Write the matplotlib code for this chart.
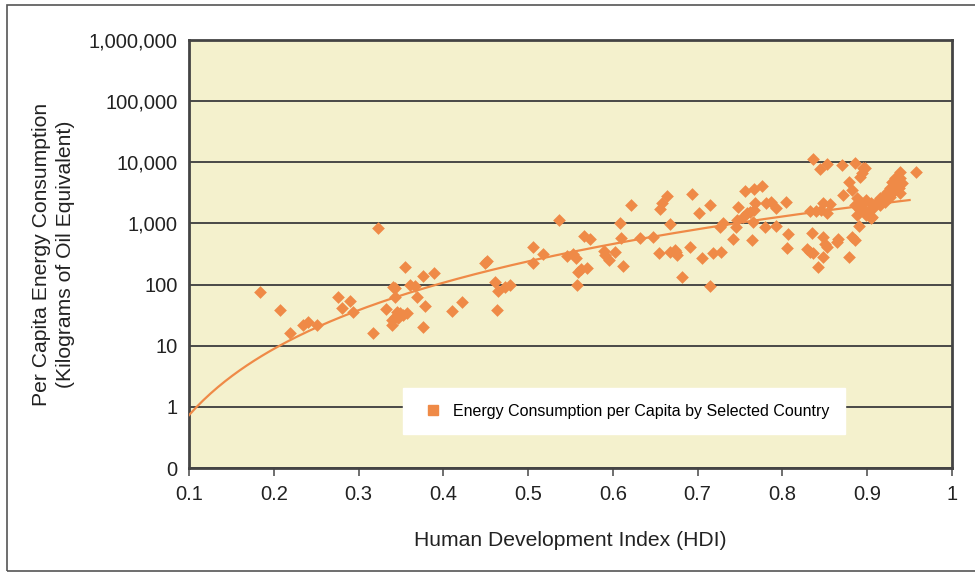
import numpy as np
import matplotlib
matplotlib.use('Agg')
import matplotlib.pyplot as plt
from matplotlib.lines import Line2D
from matplotlib.patches import Rectangle

plt.rcParams['font.family'] = ['Liberation Sans', 'DejaVu Sans']

# HDI of each country (x) and per capita energy use in kg of oil equivalent (y)
hdi = [0.184, 0.207, 0.219, 0.235, 0.240, 0.251, 0.276, 0.280, 0.290, 0.294,
       0.317, 0.332, 0.341, 0.343, 0.355, 0.343, 0.345, 0.349, 0.343, 0.353,
       0.357, 0.339, 0.347, 0.339, 0.361, 0.367, 0.369, 0.376, 0.389, 0.378,
       0.376, 0.410, 0.422, 0.323,
       0.451, 0.449, 0.461, 0.465, 0.473, 0.479, 0.463, 0.506, 0.518, 0.506,
       0.536, 0.546, 0.553, 0.557, 0.559, 0.563, 0.569, 0.558, 0.566, 0.573,
       0.589, 0.591, 0.595, 0.603, 0.612, 0.608, 0.621, 0.610, 0.632, 0.647,
       0.654, 0.656, 0.658, 0.664, 0.667, 0.667, 0.673, 0.676, 0.675, 0.681,
       0.691, 0.693, 0.702, 0.705, 0.715, 0.718, 0.728, 0.714, 0.726, 0.730,
       0.742, 0.745, 0.748, 0.746, 0.754, 0.758, 0.762, 0.766, 0.756, 0.766,
       0.776, 0.768, 0.764, 0.765, 0.779, 0.781, 0.787, 0.793, 0.793, 0.804,
       0.807, 0.805,
       0.836, 0.844, 0.852, 0.870, 0.886, 0.895, 0.894, 0.892, 0.897, 0.878,
       0.882, 0.872, 0.848, 0.856, 0.833, 0.840, 0.846, 0.852, 0.888, 0.890,
       0.886, 0.894, 0.892, 0.888, 0.899, 0.905, 0.907, 0.905, 0.890, 0.835,
       0.848, 0.866, 0.882, 0.886, 0.850, 0.852, 0.864, 0.829, 0.833, 0.836,
       0.848, 0.878, 0.842,
       0.939, 0.958, 0.933, 0.939, 0.929, 0.935, 0.941, 0.931, 0.937, 0.927,
       0.923, 0.931, 0.939, 0.921, 0.927, 0.915, 0.921, 0.911, 0.907, 0.915,
       0.903, 0.899, 0.906]
energy = [75, 38, 16, 22, 24, 22, 63, 41, 54, 36,
          16, 40, 92, 87, 196, 63, 36, 34, 30, 32,
          34, 26, 28, 22, 98, 96, 62, 140, 156, 45,
          20, 37, 52, 850,
          243, 228, 109, 79, 90, 98, 38, 416, 316, 228,
          1137, 293, 316, 269, 162, 177, 184, 98, 622, 556,
          358, 304, 252, 345, 201, 1026, 2000, 570, 570, 593,
          324, 1702, 2133, 2838, 977, 344, 367, 304, 344, 131,
          416, 3027, 1463, 275, 2000, 324, 344, 95, 883, 1004,
          550, 883, 1875, 1137, 1288, 1463, 1553, 1655, 3427, 3656,
          4093, 2133, 535, 1067, 883, 2183, 2265, 1766, 907, 2265,
          663, 392,
          11170, 7670, 9370, 9020, 9610, 7960, 6750, 5800, 8150, 4810,
          3520, 2915, 2180, 2080, 1596, 1596, 1656, 1462, 2575, 2133,
          2000, 1875, 1655, 1371, 2415, 2133, 1766, 1211, 907, 689,
          593, 550, 593, 535, 455, 416, 502, 377, 344, 324,
          279, 279, 191,
          7010, 7010, 5470, 5470, 4810, 4530, 4530, 3985, 3750, 3750,
          3300, 3300, 3105, 2915, 2735, 2575, 2265, 2265, 2000, 2000,
          1655, 1371, 1288]

x_ticks = [0.1, 0.2, 0.3, 0.4, 0.5, 0.6, 0.7, 0.8, 0.9, 1.0]
x_tick_labels = ['0.1', '0.2', '0.3', '0.4', '0.5', '0.6', '0.7', '0.8', '0.9', '1']
y_ticks = [0.1, 1, 10, 100, 1e3, 1e4, 1e5, 1e6]
y_tick_labels = ['0', '1', '10', '100', '1,000', '10,000', '100,000', '1,000,000']

orange = '#ef8a47'
grid_col = '#3c3c3c'

fig = plt.figure(figsize=(9.75, 5.72), dpi=100)
ax = fig.add_axes([0.1938, 0.1818, 0.7826, 0.7483])
ax.set_facecolor('#f4f1cd')

ax.scatter(hdi, energy, marker='D', s=42, color=orange, linewidths=0, zorder=3)

# power trendline fitted on the data (like Excel's power fit)
b, loga = np.polyfit(np.log(hdi), np.log(energy), 1)
xs = np.linspace(0.1, 0.95, 200)
ax.plot(xs, np.exp(loga) * xs ** b, color=orange, lw=1.6, zorder=4)

ax.set_yscale('log')
ax.set_xlim(0.1, 1.0)
ax.set_ylim(0.1, 1e6)
ax.set_xticks(x_ticks)
ax.set_xticklabels(x_tick_labels)
ax.set_yticks(y_ticks)
ax.set_yticklabels(y_tick_labels)
ax.yaxis.set_minor_locator(matplotlib.ticker.NullLocator())
ax.tick_params(axis='x', length=6, width=1.2, color='#555555', labelsize=14.5, pad=6)
ax.tick_params(axis='y', length=0, labelsize=14.5, pad=8)
for lab in ax.get_xticklabels() + ax.get_yticklabels():
    lab.set_color('#222222')

ax.grid(axis='y', color=grid_col, lw=1.3)
ax.set_axisbelow(True)
for sp in ax.spines.values():
    sp.set_color('#444444')
    sp.set_linewidth(2)

ax.set_xlabel('Human Development Index (HDI)', fontsize=15.2, color='#222222', labelpad=20)
ax.set_ylabel('Per Capita Energy Consumption\n(Kilograms of Oil Equivalent)',
              fontsize=15.2, color='#222222', labelpad=10, linespacing=1.35)

handle = Line2D([], [], marker='s', ls='none', color=orange, markersize=7)
leg = ax.legend([handle], ['Energy Consumption per Capita by Selected Country'],
                loc='center', bbox_to_anchor=(0.57, 0.133), fontsize=11.5,
                frameon=True, fancybox=False, borderpad=0.95, handletextpad=0.4,
                handlelength=1.8, borderaxespad=0)
leg.get_frame().set_facecolor('white')
leg.get_frame().set_edgecolor('white')
leg.get_frame().set_alpha(1)

# outer frame around the figure (right side runs off the picture)
fig.patches.append(Rectangle((7 / 975, 1 / 572), 1.1, 566 / 572, transform=fig.transFigure,
                             fill=False, edgecolor='#555555', lw=1.2))

fig.savefig('out.png', dpi=100, facecolor='white')
